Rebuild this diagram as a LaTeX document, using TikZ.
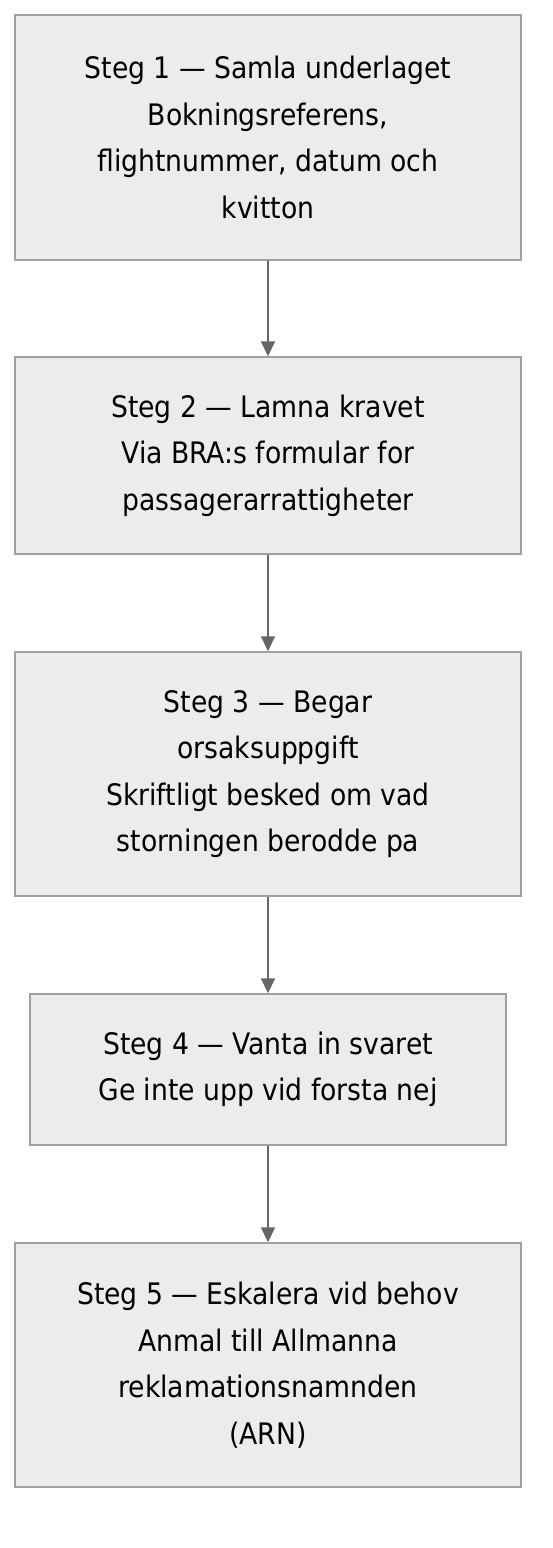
\documentclass[tikz,border=0pt]{standalone}
\usepackage{fontspec}
\setmainfont{DejaVu Sans Condensed}
\usetikzlibrary{arrows.meta}
\definecolor{boxfill}{HTML}{ECECEC}
\definecolor{boxline}{HTML}{A0A0A0}
\definecolor{arrowc}{HTML}{666666}
\begin{document}
\begin{tikzpicture}[x=1pt,y=-1pt,
  stepbox/.style={draw=boxline, fill=boxfill, line width=1.5pt, minimum width=506pt, inner sep=0pt,
    align=center, font=\fontsize{29.6}{46.5}\selectfont},
  flow/.style={draw=arrowc, line width=2pt, -{Triangle[length=15pt,width=14pt]}}]
\useasboundingbox (0,0) rectangle (552,1548);
\fill[white] (0,0) rectangle (552,1548);
\node[stepbox, minimum height=245pt] (s1) at (268,137.5) {Steg 1 — Samla underlaget\\Bokningsreferens,\\flightnummer, datum och\\kvitton};
\node[stepbox, minimum height=197pt] (s2) at (268,455.5) {Steg 2 — Lamna kravet\\Via BRA:s formular for\\passagerarrattigheter};
\node[stepbox, minimum height=244pt] (s3) at (268,774) {Steg 3 — Begar\\orsaksuppgift\\Skriftligt besked om vad\\storningen berodde pa};
\node[stepbox, minimum height=151pt, minimum width=476pt] (s4) at (268,1069.5) {Steg 4 — Vanta in svaret\\Ge inte upp vid forsta nej};
\node[stepbox, minimum height=244pt] (s5) at (268,1365) {Steg 5 — Eskalera vid behov\\Anmal till Allmanna\\reklamationsnamnden\\(ARN)};
\draw[flow] (s1) -- (s2);
\draw[flow] (s2) -- (s3);
\draw[flow] (s3) -- (s4);
\draw[flow] (s4) -- (s5);
\end{tikzpicture}
\end{document}
